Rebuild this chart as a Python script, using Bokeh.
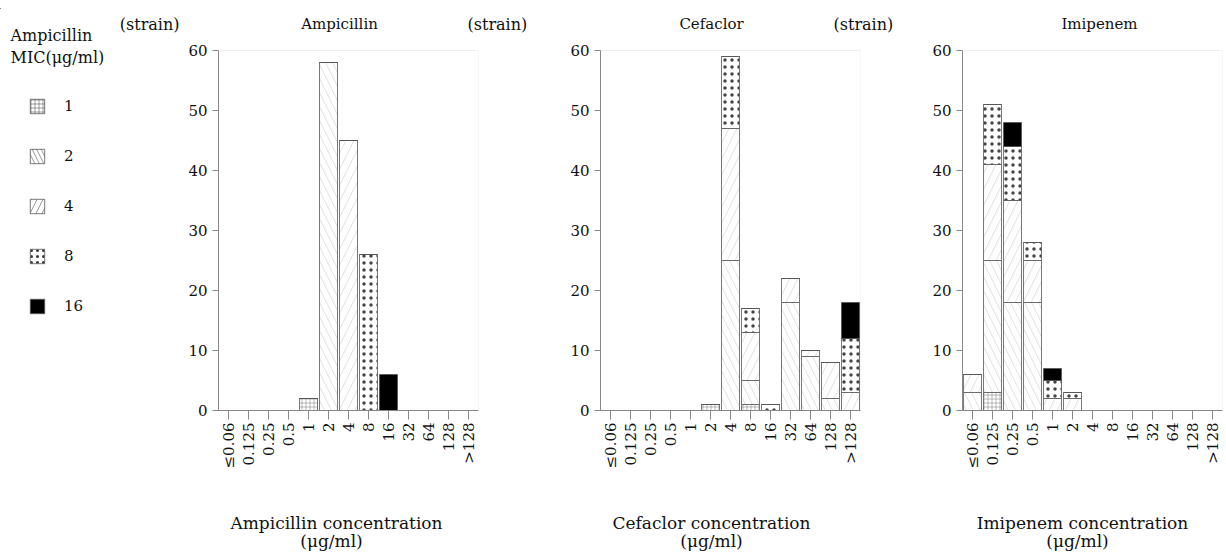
import math
from bokeh.plotting import figure
from bokeh.models import (Range1d, FixedTicker, Legend, LegendItem, ColumnDataSource,
                          LinearAxis, Label, BoxAnnotation)
from bokeh.layouts import row
from bokeh.embed import file_html
from bokeh.resources import INLINE

# ---------------- data ----------------
categories = ["≤0.06", "0.125", "0.25", "0.5", "1", "2", "4", "8", "16", "32", "64", "128", ">128"]
mic_classes = ["1", "2", "4", "8", "16"]
y_ticks = [0, 10, 20, 30, 40, 50, 60]

amp_mic1  = [0, 0, 0, 0, 2, 0, 0, 0, 0, 0, 0, 0, 0]
amp_mic2  = [0, 0, 0, 0, 0, 58, 0, 0, 0, 0, 0, 0, 0]
amp_mic4  = [0, 0, 0, 0, 0, 0, 45, 0, 0, 0, 0, 0, 0]
amp_mic8  = [0, 0, 0, 0, 0, 0, 0, 26, 0, 0, 0, 0, 0]
amp_mic16 = [0, 0, 0, 0, 0, 0, 0, 0, 6, 0, 0, 0, 0]

cef_mic1  = [0, 0, 0, 0, 0, 1, 0, 1, 0, 0, 0, 0, 0]
cef_mic2  = [0, 0, 0, 0, 0, 0, 25, 4, 0, 18, 9, 2, 0]
cef_mic4  = [0, 0, 0, 0, 0, 0, 22, 8, 0, 4, 1, 6, 3]
cef_mic8  = [0, 0, 0, 0, 0, 0, 12, 4, 1, 0, 0, 0, 9]
cef_mic16 = [0, 0, 0, 0, 0, 0, 0, 0, 0, 0, 0, 0, 6]

imi_mic1  = [0, 3, 0, 0, 0, 0, 0, 0, 0, 0, 0, 0, 0]
imi_mic2  = [3, 22, 18, 18, 0, 0, 0, 0, 0, 0, 0, 0, 0]
imi_mic4  = [3, 16, 17, 7, 2, 2, 0, 0, 0, 0, 0, 0, 0]
imi_mic8  = [0, 10, 9, 3, 3, 1, 0, 0, 0, 0, 0, 0, 0]
imi_mic16 = [0, 0, 4, 0, 2, 0, 0, 0, 0, 0, 0, 0, 0]

FONT = "DejaVu Serif"
TXT = "#111111"
STACK = ["m1", "m2", "m4", "m8", "m16"]
H = 554
TOP = 8                 # frame top (pixel); value 60 sits at pixel 50
ZERO = 410              # pixel of value 0
BOTTOM = H - ZERO
Y_END = (ZERO - TOP) / 6.0   # 6 px per strain

# per-class style (bottom -> top)
fills   = ["white", "white", "white", "white", "black"]
hatches = ["cross", "left_diagonal_line", "right_diagonal_line", "dot", " "]
hscale  = [4, 14, 16, 7, 12]
hcolor  = ["#777777", "#c4c4c4", "#c4c4c4", "#444444", "black"]
hweight = [0.5, 0.5, 0.5, 0.8, 1]


def text_axis(p, side, pos, text, standoff, range_kw, size="15px"):
    ax = LinearAxis(ticker=FixedTicker(ticks=[pos]), major_label_overrides={pos: text},
                    axis_line_color=None, major_tick_line_color=None, minor_tick_line_color=None,
                    major_tick_out=0, major_tick_in=0, minor_tick_out=0, minor_tick_in=0,
                    major_label_standoff=standoff, major_label_text_font=FONT,
                    major_label_text_font_size=size, major_label_text_color=TXT, **range_kw)
    p.add_layout(ax, side)
    return ax


def panel(name, data, width, left, right, frame_left):
    p = figure(width=width, height=H, output_backend="svg", toolbar_location=None,
               x_range=Range1d(-0.5, len(categories) - 0.5), y_range=Range1d(0, Y_END),
               min_border_left=left, min_border_right=right,
               min_border_top=TOP, min_border_bottom=BOTTOM)
    p.extra_x_ranges = {"px": Range1d(frame_left, frame_left + 260)}
    p.extra_y_ranges = {"py": Range1d(ZERO, TOP)}
    src = ColumnDataSource(dict(x=list(range(len(categories))),
                                m1=data[0], m2=data[1], m4=data[2], m8=data[3], m16=data[4]))
    p.add_layout(BoxAnnotation(left=-0.5, right=len(categories) - 0.5, bottom=0, top=60,
                               fill_alpha=0, line_color="#c8c8c8", line_width=1, level="underlay"))
    p.vbar_stack(STACK, x="x", width=0.9, source=src,
                 fill_color=fills, hatch_pattern=hatches, hatch_scale=hscale,
                 hatch_color=hcolor, hatch_weight=hweight,
                 line_color="#555555", line_width=0.8)
    p.xgrid.visible = False
    p.ygrid.visible = False
    p.outline_line_color = None

    xa = p.xaxis[0]
    ya = p.yaxis[0]
    xa.ticker = FixedTicker(ticks=list(range(len(categories))))
    xa.major_label_overrides = {i: c for i, c in enumerate(categories)}
    xa.major_label_orientation = math.pi / 2
    xa.major_tick_out = 9
    xa.major_tick_in = 0
    xa.major_label_standoff = 3
    ya.ticker = FixedTicker(ticks=y_ticks)
    ya.bounds = (0, 60)
    ya.major_tick_out = 6
    ya.major_tick_in = 0
    ya.major_label_standoff = 5
    for ax in (xa, ya):
        ax.minor_tick_line_color = None
        ax.axis_line_color = "#888888"
        ax.major_tick_line_color = "#888888"
        ax.major_label_text_font = FONT
        ax.major_label_text_font_size = "15px"
        ax.major_label_text_color = TXT
    return p


# figure geometry: lf 0-115 | p1 115-532 | p2 532-897 | p3 897-1226
p1 = panel("Ampicillin", [amp_mic1, amp_mic2, amp_mic4, amp_mic8, amp_mic16], 417, 103, 54, 218)
p2 = panel("Cefaclor", [cef_mic1, cef_mic2, cef_mic4, cef_mic8, cef_mic16], 365, 68, 37, 600)
p3 = panel("Imipenem", [imi_mic1, imi_mic2, imi_mic4, imi_mic8, imi_mic16], 329, 65, 4, 962)

PY = {"y_range_name": "py"}
PX = {"x_range_name": "px"}
# "(strain)" unit labels
text_axis(p1, "left", 24, "(strain)", 6, PY, "16px")      # for Ampicillin panel
text_axis(p1, "right", 24, "(strain)", -11, PY, "16px")   # for Cefaclor panel
text_axis(p2, "right", 24, "(strain)", -27, PY, "16px")   # for Imipenem panel

# panel titles and x-axis titles
for p, name, tx, c1, c2 in ((p1, "Ampicillin", 339, 336, 331),
                            (p2, "Cefaclor", 711, 711, 711),
                            (p3, "Imipenem", 1099, 1082, 1077)):
    p.add_layout(Label(x=tx, y=23, x_range_name="px", y_range_name="py", text=name,
                       text_align="center", text_baseline="middle",
                       text_font=FONT, text_font_size="15px", text_color=TXT))
    text_axis(p, "below", c1, name + " concentration", 41, PX, "17px")
    text_axis(p, "below", c2, "(μg/ml)", -5, PX, "17px")

# ---------------- legend panel ----------------
lf = figure(width=115, height=H, output_backend="svg", toolbar_location=None,
            x_range=Range1d(0, 115), y_range=Range1d(ZERO, TOP),
            min_border_left=0, min_border_right=0, min_border_top=TOP, min_border_bottom=BOTTOM)
lf.axis.visible = False
lf.xgrid.visible = False
lf.ygrid.visible = False
lf.outline_line_color = None

leg_hcolor = ["#444444", "#333333", "#333333", "#333333", "black"]
leg_hscale = [4, 9, 12, 6, 12]
items = []
for i, m in enumerate(mic_classes):
    r = lf.vbar(x=[-1000], top=[1], width=1, fill_color=fills[i], hatch_pattern=hatches[i],
                hatch_scale=leg_hscale[i], hatch_color=leg_hcolor[i], hatch_weight=hweight[i],
                line_color="#555555", line_width=0.8)
    items.append(LegendItem(label=m, renderers=[r]))

legend = Legend(items=items, location=(28, 95), orientation="vertical",
                glyph_width=18, glyph_height=18, spacing=32, label_standoff=18,
                padding=0, margin=0, border_line_color=None, background_fill_alpha=0,
                label_text_font=FONT, label_text_font_size="15px", label_text_color=TXT,
                label_height=18)
lf.add_layout(legend)
lf.add_layout(Label(x=10, y=35, text="Ampicillin", text_baseline="middle",
                    text_font=FONT, text_font_size="16px", text_color=TXT))
lf.add_layout(Label(x=10, y=57, text="MIC(μg/ml)", text_baseline="middle",
                    text_font=FONT, text_font_size="16px", text_color=TXT))

layout = row(lf, p1, p2, p3, spacing=0)
open("out.html", "w").write(file_html(layout, INLINE))
